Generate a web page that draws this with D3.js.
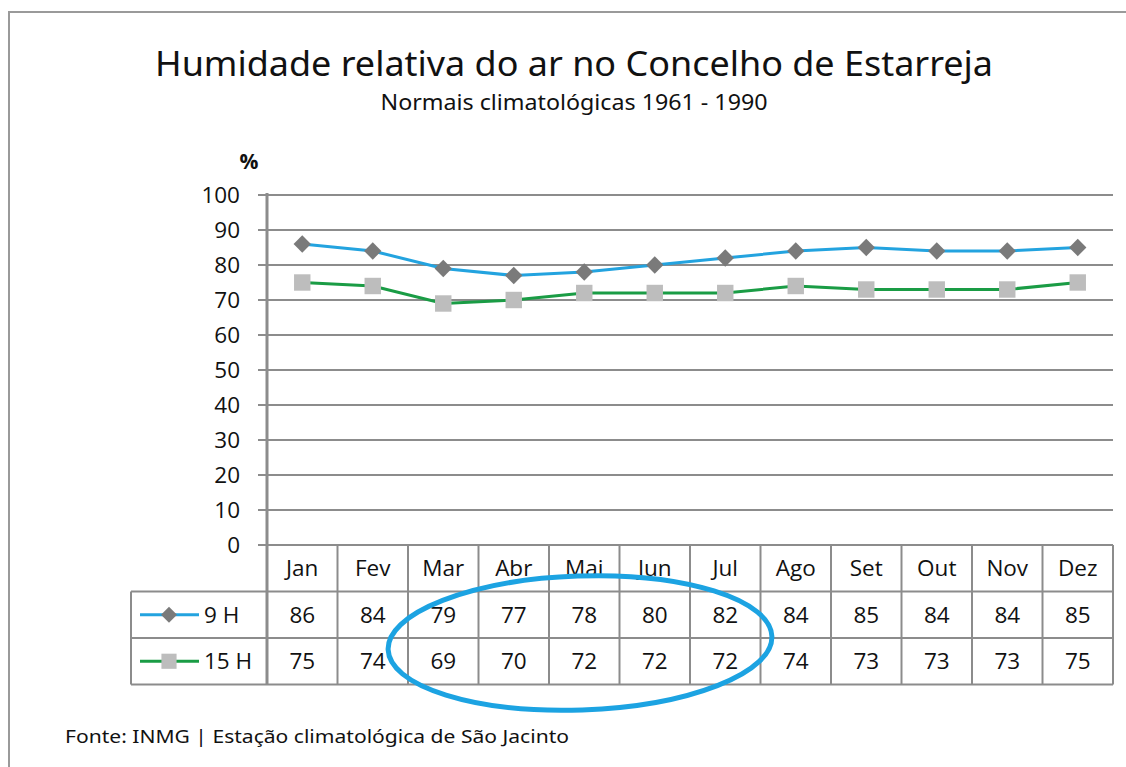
<!DOCTYPE html>
<html>
<head>
<meta charset="utf-8">
<script src="https://cdn.jsdelivr.net/npm/d3@7"></script>
<style>
  body { margin: 0; background: #fff; }
  text { fill: #111; }
</style>
</head>
<body>
<div id="chart-area"></div>
<script>
// data
var months = ["Jan", "Fev", "Mar", "Abr", "Mai", "Jun", "Jul", "Ago", "Set", "Out", "Nov", "Dez"];
var h9 = [86, 84, 79, 77, 78, 80, 82, 84, 85, 84, 84, 85];
var h15 = [75, 74, 69, 70, 72, 72, 72, 74, 73, 73, 73, 75];
var seriesNames = ["9 H", "15 H"];
var yTicks = [0, 10, 20, 30, 40, 50, 60, 70, 80, 90, 100];

var W = 1126, H = 767;
var plotLeft = 267, plotRight = 1113, plotTop = 195, plotBottom = 545;
var rowH = 46.5, legendLeft = 131;
var gridCol = "#8c8c8c";
var lineFont = "'Open Sans', 'DejaVu Sans', sans-serif";
var titleFont = "'Noto Sans', 'Open Sans', sans-serif";
var fs = 22.5;

var svg = d3.select("#chart-area").append("svg")
    .attr("width", W)
    .attr("height", H);

// outer frame
svg.append("path")
    .attr("d", "M9," + H + " V12 H" + W)
    .attr("fill", "none")
    .attr("stroke", "#9a9a9a")
    .attr("stroke-width", 2);

var x = d3.scaleBand().domain(months).range([plotLeft, plotRight]);
var y = d3.scaleLinear().domain([0, 100]).range([plotBottom, plotTop]);

// gridlines
svg.append("g").selectAll("line")
    .data(yTicks)
    .enter().append("line")
        .attr("x1", plotLeft - 9)
        .attr("x2", plotRight)
        .attr("y1", function(d) { return y(d); })
        .attr("y2", function(d) { return y(d); })
        .attr("stroke", gridCol)
        .attr("stroke-width", 2);

// y axis labels
var yAxis = d3.axisLeft(y).tickValues(yTicks).tickSize(0).tickPadding(27);
var ya = svg.append("g").attr("transform", "translate(" + plotLeft + ",0)").call(yAxis);
ya.select(".domain").remove();
ya.selectAll("text")
    .attr("font-family", lineFont)
    .attr("font-size", fs)
    .attr("fill", "#111");

// y axis line, continues down through the table
svg.append("line")
    .attr("x1", plotLeft).attr("x2", plotLeft)
    .attr("y1", plotTop - 2).attr("y2", plotBottom + rowH * 3)
    .attr("stroke", gridCol)
    .attr("stroke-width", 3);

svg.append("text")
    .attr("x", 249).attr("y", 169)
    .attr("text-anchor", "middle")
    .attr("font-family", lineFont)
    .attr("font-weight", "bold")
    .attr("font-size", 21)
    .text("%");

// titles
svg.append("text")
    .attr("x", 574).attr("y", 76)
    .attr("text-anchor", "middle")
    .attr("font-family", titleFont)
    .attr("font-size", 34)
    .attr("textLength", 838)
    .attr("lengthAdjust", "spacingAndGlyphs")
    .text("Humidade relativa do ar no Concelho de Estarreja");

svg.append("text")
    .attr("x", 574).attr("y", 110)
    .attr("text-anchor", "middle")
    .attr("font-family", titleFont)
    .attr("font-size", 21)
    .attr("textLength", 387)
    .attr("lengthAdjust", "spacingAndGlyphs")
    .text("Normais climatológicas 1961 - 1990");

// data table
var table = svg.append("g");
var tableBottom = plotBottom + rowH * 3;

[plotBottom + rowH, plotBottom + rowH * 2, tableBottom].forEach(function(yy) {
    table.append("line")
        .attr("x1", legendLeft).attr("x2", plotRight)
        .attr("y1", yy).attr("y2", yy)
        .attr("stroke", gridCol).attr("stroke-width", 2);
});
table.append("line")
    .attr("x1", legendLeft).attr("x2", legendLeft)
    .attr("y1", plotBottom + rowH).attr("y2", tableBottom)
    .attr("stroke", gridCol).attr("stroke-width", 2);

table.selectAll(".sep")
    .data(months)
    .enter().append("line")
        .attr("class", "sep")
        .attr("x1", function(d) { return x(d) + x.bandwidth(); })
        .attr("x2", function(d) { return x(d) + x.bandwidth(); })
        .attr("y1", plotBottom)
        .attr("y2", tableBottom)
        .attr("stroke", gridCol)
        .attr("stroke-width", 2);

table.selectAll(".month")
    .data(months)
    .enter().append("text")
        .attr("x", function(d) { return x(d) + x.bandwidth() / 2; })
        .attr("y", plotBottom + rowH / 2 + 8)
        .attr("text-anchor", "middle")
        .attr("font-family", lineFont)
        .attr("font-size", fs)
        .text(function(d) { return d; });

var rows = [h9, h15];
rows.forEach(function(vals, r) {
    table.selectAll(".v" + r)
        .data(vals)
        .enter().append("text")
            .attr("x", function(d, i) { return x(months[i]) + x.bandwidth() / 2; })
            .attr("y", plotBottom + rowH * (r + 1) + rowH / 2 + 8)
            .attr("text-anchor", "middle")
            .attr("font-family", lineFont)
            .attr("font-size", fs)
            .text(function(d) { return d; });
});

// series
var styles = [
    { line: "#23a3df", marker: "#7a7a7a", size: 150, rot: 45 },
    { line: "#1a9c45", marker: "#bdbdbd", size: 270, rot: 0 }
];

var line = d3.line()
    .x(function(d, i) { return x(months[i]) + x.bandwidth() / 2; })
    .y(function(d) { return y(d); });

rows.forEach(function(vals, r) {
    var s = styles[r];
    svg.append("path")
        .datum(vals)
        .attr("d", line)
        .attr("fill", "none")
        .attr("stroke", s.line)
        .attr("stroke-width", 3);

    svg.selectAll(".m" + r)
        .data(vals)
        .enter().append("path")
            .attr("d", d3.symbol().type(d3.symbolSquare).size(s.size))
            .attr("transform", function(d, i) {
                return "translate(" + (x(months[i]) + x.bandwidth() / 2) + "," + y(d) + ") rotate(" + s.rot + ")";
            })
            .attr("fill", s.marker);

    // legend key
    var ly = plotBottom + rowH * (r + 1) + rowH / 2;
    table.append("line")
        .attr("x1", 140).attr("x2", 199)
        .attr("y1", ly).attr("y2", ly)
        .attr("stroke", s.line).attr("stroke-width", 3);
    table.append("path")
        .attr("d", d3.symbol().type(d3.symbolSquare).size(s.size * 0.85))
        .attr("transform", "translate(169," + ly + ") rotate(" + s.rot + ")")
        .attr("fill", s.marker);
    table.append("text")
        .attr("x", 204).attr("y", ly + 8)
        .attr("font-family", lineFont)
        .attr("font-size", fs)
        .text(seriesNames[r]);
});

// blue annotation ellipse
svg.append("ellipse")
    .attr("cx", 580).attr("cy", 643)
    .attr("rx", 192).attr("ry", 67)
    .attr("transform", "rotate(-2,580,643)")
    .attr("fill", "none")
    .attr("stroke", "#1ca3e2")
    .attr("stroke-width", 5);

// source note
svg.append("text")
    .attr("x", 65).attr("y", 743)
    .attr("font-family", titleFont)
    .attr("font-size", 18)
    .attr("textLength", 504)
    .attr("lengthAdjust", "spacingAndGlyphs")
    .text("Fonte: INMG | Estação climatológica de São  Jacinto");
</script>
</body>
</html>
